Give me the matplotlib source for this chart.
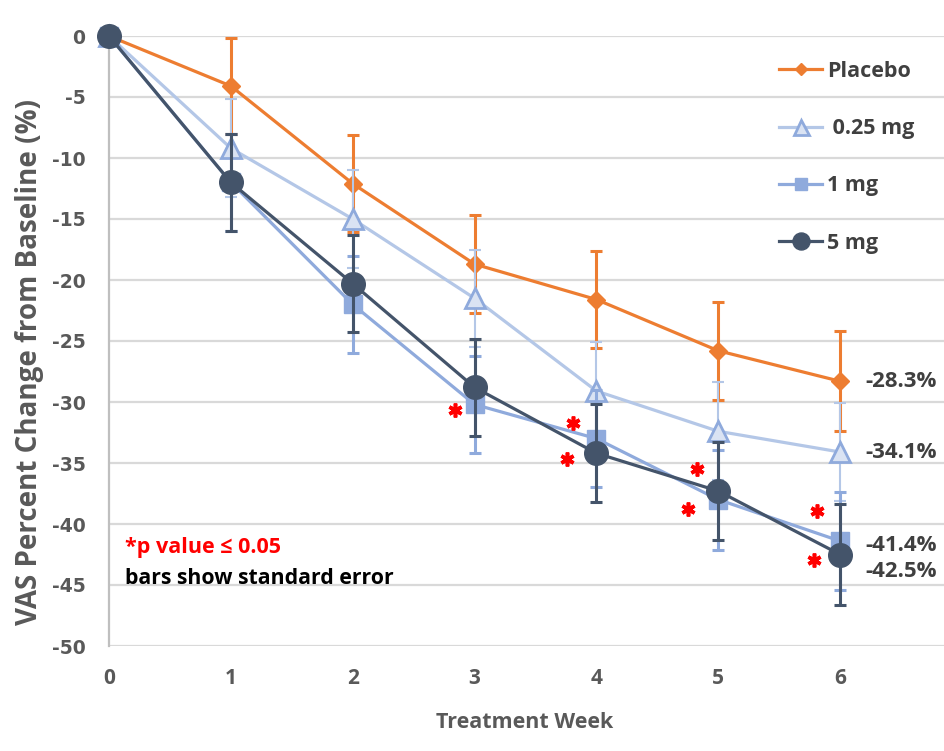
import matplotlib
matplotlib.use("Agg")
import matplotlib.pyplot as plt
from matplotlib.transforms import offset_copy
from matplotlib.lines import Line2D

weeks = [0, 1, 2, 3, 4, 5, 6]
series_names = ["Placebo", " 0.25 mg", "1 mg", "5 mg"]
placebo = [0, -4.1, -12.1, -18.7, -21.6, -25.8, -28.3]
placebo_se = [0, 3.9, 4.0, 4.0, 4.0, 4.0, 4.1]
mg025 = [0, -9.2, -15.0, -21.5, -29.1, -32.4, -34.1]
mg025_se = [0, 4.0, 4.0, 4.0, 4.0, 4.0, 4.0]
mg1 = [0, -12.0, -22.0, -30.2, -33.0, -38.0, -41.4]
mg1_se = [0, 4.0, 4.0, 4.0, 4.0, 4.1, 4.0]
mg5 = [0, -12.0, -20.3, -28.8, -34.2, -37.3, -42.5]
mg5_se = [0, 4.0, 4.0, 4.0, 4.0, 4.0, 4.1]
end_labels = ["-28.3%", "-34.1%", "-41.4%", "-42.5%"]
yticks = [0, -5, -10, -15, -20, -25, -30, -35, -40, -45, -50]
# significance asterisks: (series index, week)
sig_points = [(2, 3), (2, 4), (3, 4), (2, 5), (3, 5), (2, 6), (3, 6)]

values = [placebo, mg025, mg1, mg5]
ses = [placebo_se, mg025_se, mg1_se, mg5_se]

W, H = 945, 751
fig = plt.figure(figsize=(W / 100, H / 100), dpi=100)
ax = fig.add_axes([109 / W, 1 - 646 / H, (945 - 109) / W, (646 - 36) / H])

ORANGE = "#ED7D31"
LIGHT = "#B4C7E7"
MID = "#8FAADC"
DARK = "#44546A"
GRID = "#D9D9D9"
TXT = "#595959"
FONT = ["Open Sans", "DejaVu Sans"]

styles = [
    dict(color=ORANGE, marker="D", ms=9, mfc=ORANGE, mec=ORANGE, mew=1, lw=2.3, ecolor=ORANGE, elw=2.2),
    dict(color=LIGHT, marker="^", ms=15, mfc="#DAE3F3", mec=MID, mew=2, lw=2.3, ecolor=LIGHT, elw=1.5),
    dict(color=MID, marker="s", ms=12.5, mfc=MID, mec=MID, mew=1, lw=2.3, ecolor=MID, elw=2.2),
    dict(color=DARK, marker="o", ms=17, mfc=DARK, mec=DARK, mew=1, lw=2.3, ecolor=DARK, elw=2.2),
]

handles = []
for i, (vals, se, st, name) in enumerate(zip(values, ses, styles, series_names)):
    z = 3 + i
    eb = ax.errorbar(weeks, vals, yerr=se, fmt="none", ecolor=st["ecolor"], elinewidth=st["elw"],
                     capsize=4.5, capthick=st["elw"], errorevery=(1, 1), zorder=z)
    for c in eb.lines[1]:
        c.set_clip_on(False)
    for c in eb.lines[2]:
        c.set_clip_on(False)
    ln, = ax.plot(weeks, vals, color=st["color"], lw=st["lw"], marker=st["marker"], ms=st["ms"],
                  mfc=st["mfc"], mec=st["mec"], mew=st["mew"], clip_on=False, zorder=z + 0.5)
    handles.append(Line2D([], [], color=st["color"], lw=st["lw"], marker=st["marker"], ms=st["ms"] * 0.72,
                          mfc=st["mfc"], mec=st["mec"], mew=st["mew"], label=name))

ax.set_xlim(0, (945 - 108) / 122)
ax.set_ylim(-50, 0)
ax.set_yticks(yticks)
ax.set_yticklabels([str(t) for t in yticks])
ax.set_xticks(weeks)
ax.set_xticklabels([str(w) for w in weeks])
ax.grid(axis="y", color=GRID, lw=1.6, zorder=0)
ax.set_axisbelow(True)
for s in ["top", "right"]:
    ax.spines[s].set_visible(False)
ax.spines["bottom"].set_visible(False)
ax.spines["left"].set_color("#BFBFBF")
ax.spines["left"].set_linewidth(1.6)
ax.tick_params(axis="both", length=0)
ax.tick_params(axis="y", pad=17)
ax.tick_params(axis="x", pad=16)
for lab in ax.get_yticklabels():
    lab.set_fontfamily("DejaVu Sans")
    lab.set_fontweight("bold")
    lab.set_fontsize(13.5)
    lab.set_color(TXT)
for lab in ax.get_xticklabels():
    lab.set_fontfamily(FONT)
    lab.set_fontweight("bold")
    lab.set_fontsize(15)
    lab.set_color(TXT)

ax.set_ylabel("VAS Percent Change from Baseline (%)", fontfamily=FONT, fontweight="bold",
              fontsize=20, color=TXT)
ax.yaxis.set_label_coords((30 - 109) / (945 - 109), 0.5 - (362 - 341) / 610)
ax.set_xlabel("Treatment Week", fontfamily=FONT, fontweight="bold", fontsize=15.5, color=TXT)
ax.xaxis.set_label_coords((525 - 109) / (945 - 109), -(722 - 646) / 610)
ax.xaxis.label.set_va("center")
ax.yaxis.label.set_va("center")

leg = fig.legend(handles=handles, loc="upper left", bbox_to_anchor=(779 / W, 1 - 61 / H),
                 frameon=False, prop=dict(family=FONT, weight="bold", size=15.5),
                 handlelength=2.0, handletextpad=0.25, labelspacing=1.68, borderpad=0, borderaxespad=0)
for t in leg.get_texts():
    t.set_color("#404040")

# end-of-line value labels
label_offsets = [(18, 0), (18, 0), (18, -3), (18, -12)]
for vals, txt, off in zip(values, end_labels, label_offsets):
    ax.annotate(txt, xy=(weeks[-1], vals[-1]), xytext=off, textcoords="offset points",
                ha="left", va="center", fontfamily=FONT, fontweight="bold", fontsize=16,
                color="#404040", annotation_clip=False)

# significance asterisks (offsets in points relative to marker)
sig_offsets = {(2, 3): (-14, -4), (2, 4): (-17, 11), (3, 4): (-21, -4), (2, 5): (-15, 22),
               (3, 5): (-22, -13), (2, 6): (-17, 22), (3, 6): (-19, -4)}
for (si, wk) in sig_points:
    dx, dy = sig_offsets[(si, wk)]
    tr = offset_copy(ax.transData, fig=fig, x=dx, y=dy, units="points")
    ax.plot([wk], [values[si][weeks.index(wk)]], transform=tr, marker=(6, 2, 0), ms=10,
            mec="#FF0000", mew=2.6, ls="none", clip_on=False, zorder=10)

fig.text(125 / W, 1 - 547 / H, "*p value \u2264 0.05", color="#FF0000", fontsize=15.5,
         fontweight="bold", family=FONT, ha="left", va="center")
fig.text(125 / W, 1 - 578 / H, "bars show standard error", color="#000000", fontsize=15.3,
         fontweight="bold", family=FONT, ha="left", va="center")

fig.savefig("out.png", dpi=100)
